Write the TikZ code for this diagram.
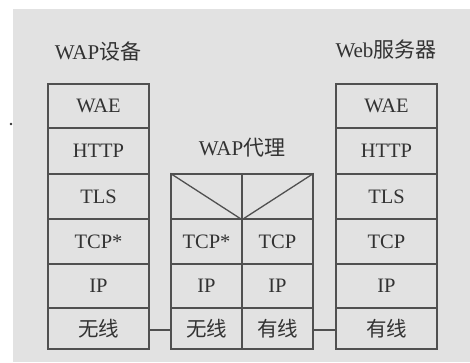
\documentclass[tikz,border=0pt]{standalone}
\usepackage{fontspec}
\setmainfont{Liberation Serif}
\newfontfamily\cjk{Noto Sans CJK SC}
\definecolor{bgc}{RGB}{226,226,226}
\definecolor{linec}{RGB}{80,80,80}
\definecolor{txtc}{RGB}{50,50,50}
\begin{document}
\begin{tikzpicture}[x=1pt,y=-1pt,
  cell/.style={draw=linec,line width=1.3pt,inner sep=0pt,minimum width=101pt,text=txtc,
    font=\fontsize{20.5}{22}\selectfont},
  half/.style={cell,minimum width=71pt},
  title/.style={text=txtc,inner sep=0pt,font=\fontsize{21}{24}\selectfont},
  conn/.style={draw=linec,line width=1.3pt}]
\useasboundingbox (0,0) rectangle (470,362);
\fill[white] (0,0) rectangle (470,362);
\fill[bgc] (13,9) rectangle (470,362);
\fill[black!80] (11,124) circle (1.3);
% titles
\node[title] (t1) at (98,52) {WAP{\cjk 设备}};
\node[title] (t2) at (242,148) {WAP{\cjk 代理}};
\node[title] (t3) at (386,50) {Web{\cjk 服务器}};
% left stack
\node[cell,minimum height=44pt] (l1) at (98.5,106) {WAE};
\node[cell,minimum height=46pt] (l2) at (98.5,151) {HTTP};
\node[cell,minimum height=45pt] (l3) at (98.5,196.5) {TLS};
\node[cell,minimum height=45pt] (l4) at (98.5,241.5) {TCP*};
\node[cell,minimum height=44pt] (l5) at (98.5,286) {IP};
\node[cell,minimum height=41pt] (l6) at (98.5,328.5) {\cjk 无线};
% right stack
\node[cell,minimum height=44pt] (r1) at (386.5,106) {WAE};
\node[cell,minimum height=46pt] (r2) at (386.5,151) {HTTP};
\node[cell,minimum height=45pt] (r3) at (386.5,196.5) {TLS};
\node[cell,minimum height=45pt] (r4) at (386.5,241.5) {TCP};
\node[cell,minimum height=44pt] (r5) at (386.5,286) {IP};
\node[cell,minimum height=41pt] (r6) at (386.5,328.5) {\cjk 有线};
% middle stack
\node[cell,minimum width=142pt,minimum height=45pt] (mt) at (242,196.5) {};
\node[half,minimum height=45pt] (m4a) at (206.5,241.5) {TCP*};
\node[half,minimum height=45pt] (m4b) at (277.5,241.5) {TCP};
\node[half,minimum height=44pt] (m5a) at (206.5,286) {IP};
\node[half,minimum height=44pt] (m5b) at (277.5,286) {IP};
\node[half,minimum height=41pt] (m6a) at (206.5,328.5) {\cjk 无线};
\node[half,minimum height=41pt] (m6b) at (277.5,328.5) {\cjk 有线};
\draw[conn] (mt.north) -- (mt.south);
\draw[conn] (mt.north west) -- (mt.south) -- (mt.north east);
% connectors
\draw[conn] ([yshift=-1.5pt]l6.east) -- ([yshift=-1.5pt]m6a.west);
\draw[conn] ([yshift=-1.5pt]m6b.east) -- ([yshift=-1.5pt]r6.west);
\end{tikzpicture}
\end{document}
